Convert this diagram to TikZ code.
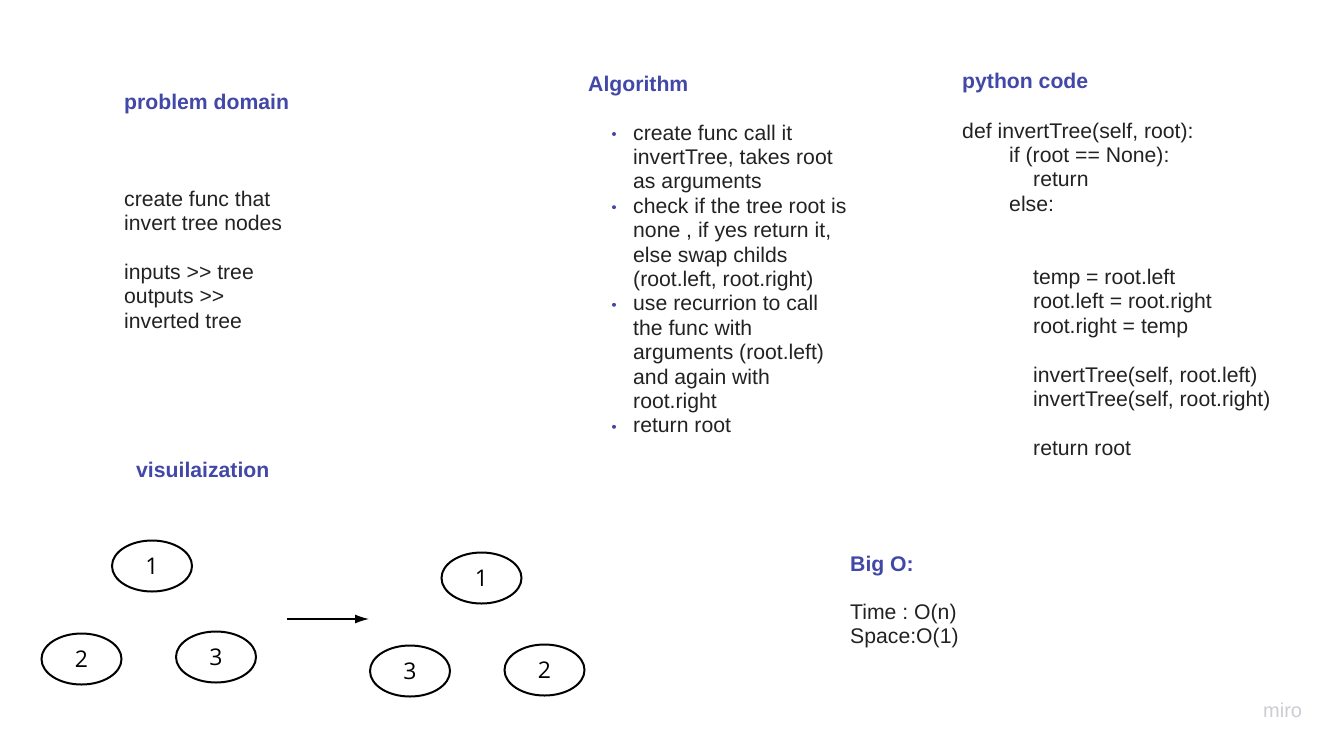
\documentclass[tikz,border=0pt]{standalone}
\usepackage{fontspec}
\setmainfont{Liberation Sans}
\newfontfamily\digitfont{Open Sans}
\usepackage{xcolor}
\usepackage{tikz}
\usetikzlibrary{positioning,arrows.meta,shapes.geometric}
\definecolor{headblue}{RGB}{66,72,168}
\definecolor{bodyink}{RGB}{34,34,34}
\definecolor{miroink}{RGB}{204,204,212}
\frenchspacing

\tikzset{
  heading/.style={anchor=base west,inner sep=0pt,text=headblue,font=\fontsize{21.2}{24.4}\selectfont\bfseries},
  bodytext/.style={anchor=base west,inner sep=0pt,text=bodyink,align=left,font=\fontsize{21.2}{24.4}\selectfont},
  treenode/.style={ellipse,draw,line width=2pt,minimum width=80pt,minimum height=51pt,inner sep=0pt,font=\digitfont\fontsize{23}{24}\selectfont},
  dotbullet/.style={circle,fill=headblue,inner sep=0pt,minimum size=4pt},
}
% ">>" without the guillemet ligature
\newcommand{\gtgt}{>\kern0pt>}

\begin{document}
\begin{tikzpicture}[x=1pt,y=-1pt]
  \fill[white] (0,0) rectangle (1337,747);
  \useasboundingbox (0,0) rectangle (1337,747);
  % multi-line nodes sit on the baseline of their last line

  % problem domain
  \node[heading] (domainhead) at (124,109) {problem domain};
  \node[bodytext] (domaintext) at (124,328) {create func that\\invert tree nodes\\[24.4pt]inputs \gtgt{} tree\\outputs \gtgt\\inverted tree};

  % algorithm
  \node[heading] (algohead) at (588,91.5) {Algorithm};
  \node[bodytext] (step1) at (633,188.8) {create func call it\\invertTree, takes root\\as arguments};
  \node[bodytext] (step2) at (633,286.4) {check if the tree root is\\none , if yes return it,\\else swap childs\\(root.left, root.right)};
  \node[bodytext] (step3) at (633,408.4) {use recurrion to call\\the func with\\arguments (root.left)\\and again with\\root.right};
  \node[bodytext] (step4) at (633,432.8) {return root};
  \foreach \y [count=\i] in {134,207.2,304.8,426.8}{
    \node[dotbullet] (dot\i) at (614,\y) {};
  }

  % python code
  \node[heading] (codehead) at (962,88) {python code};
  \node[bodytext] (codedef) at (962,138) {def invertTree(self, root):};
  \node[bodytext] (codeif) at (1009,162.4) {if (root == None):};
  \node[bodytext] (codereturn) at (1033,186.8) {return};
  \node[bodytext] (codeelse) at (1009,211.2) {else:};
  \node[bodytext] (codeswap) at (1033,455.2) {temp = root.left\\root.left = root.right\\root.right = temp\\[24.4pt]invertTree(self, root.left)\\invertTree(self, root.right)\\[24.4pt]return root};

  % visualization
  \node[heading] (vizhead) at (136,477) {visuilaization};
  \node[treenode] (oldroot) at (152,566) {1};
  \node[treenode] (oldleft) at (81.5,659) {2};
  \node[treenode] (oldright) at (216,657) {3};
  \node[treenode] (newroot) at (481.5,578) {1};
  \node[treenode] (newleft) at (410,671) {3};
  \node[treenode] (newright) at (544.5,670) {2};
  \coordinate (swapfrom) at (287,619);
  \coordinate (swapto) at (369,619);
  \draw[line width=1.2pt,-{Latex[length=14pt,width=9pt]}] (swapfrom) -- (swapto);

  % complexity
  \node[heading] (bigohead) at (850,571) {Big O:};
  \node[bodytext] (bigotext) at (850,643.4) {Time : O(n)\\Space:O(1)};

  \node[anchor=base west,inner sep=0pt,text=miroink,font=\fontsize{20}{20}\selectfont] (miromark) at (1263,717) {miro};
\end{tikzpicture}
\end{document}
